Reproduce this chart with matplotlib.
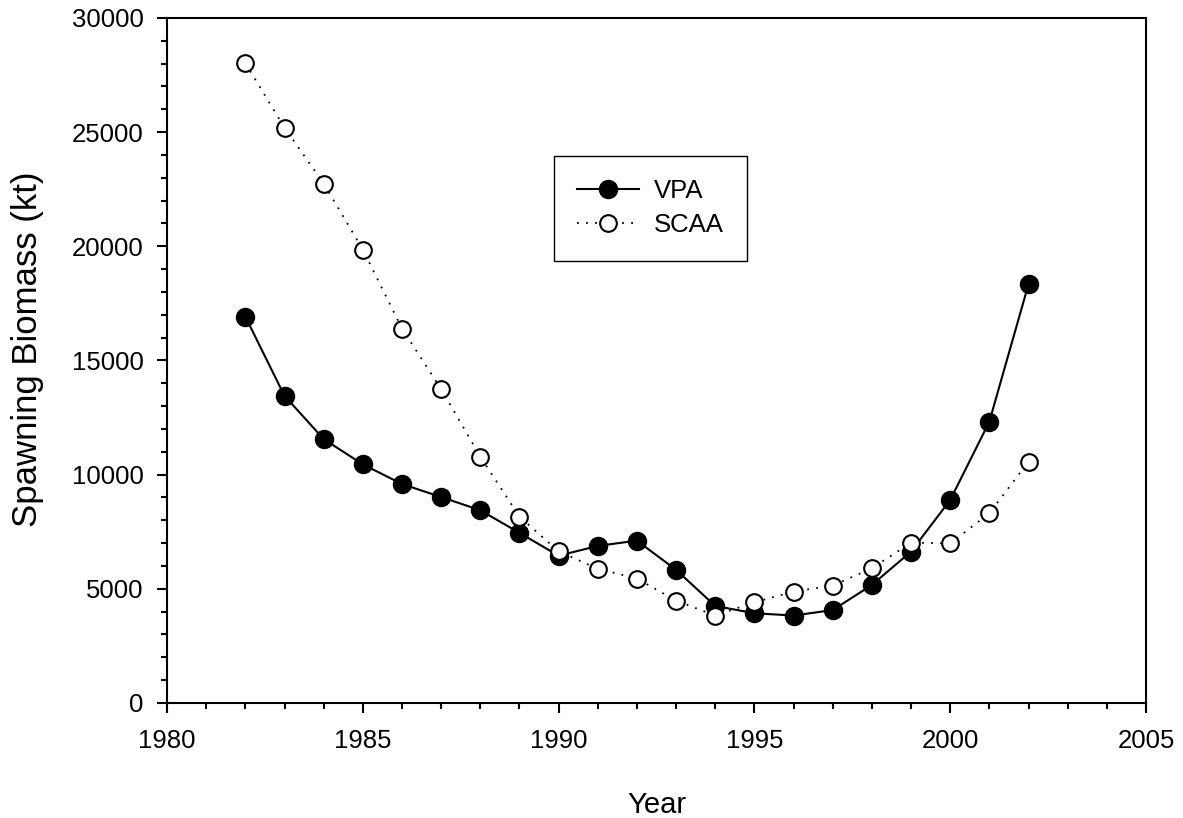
import matplotlib
matplotlib.use("Agg")
import matplotlib.pyplot as plt
from matplotlib.ticker import MultipleLocator

plt.rcParams['font.family'] = ['Liberation Sans', 'DejaVu Sans']

# values
years = [1982, 1983, 1984, 1985, 1986, 1987, 1988, 1989, 1990, 1991, 1992,
         1993, 1994, 1995, 1996, 1997, 1998, 1999, 2000, 2001, 2002]
vpa = [16920, 13450, 11560, 10450, 9590, 9020, 8440, 7450, 6450, 6880, 7110,
       5830, 4250, 3930, 3830, 4070, 5170, 6630, 8890, 12320, 18340]
scaa = [28020, 25200, 22750, 19860, 16400, 13750, 10790, 8160, 6640, 5880, 5450,
        4480, 3830, 4410, 4880, 5140, 5900, 7020, 6990, 8310, 10570]

fig = plt.figure(figsize=(11.83, 8.18), dpi=100)
ax = fig.add_axes([0.1412, 0.1406, 0.8275, 0.8374])

# solid line with filled dots
ax.plot(years, vpa, color='k', lw=1.5, marker='o', ms=13,
        mfc='k', mec='k', label='VPA')
# dotted line with open circles
ax.plot(years, scaa, color='k', lw=1.3, ls=(0, (1, 4)), marker='o', ms=12,
        mfc='white', mec='k', mew=1.5, label='SCAA')

ax.set_xlim(1980, 2005)
ax.set_ylim(0, 30000)
ax.xaxis.set_major_locator(MultipleLocator(5))
ax.xaxis.set_minor_locator(MultipleLocator(1))
ax.yaxis.set_major_locator(MultipleLocator(5000))
ax.yaxis.set_minor_locator(MultipleLocator(1000))

ax.tick_params(which='both', direction='out', width=1.5, labelsize=18.5,
               top=False, right=False)
ax.tick_params(which='major', length=7)
ax.tick_params(which='minor', length=4)
ax.tick_params(axis='x', which='major', pad=12)
ax.tick_params(axis='y', which='major', pad=10)
for s in ax.spines.values():
    s.set_linewidth(1.5)

ax.set_xlabel('Year', fontsize=21, labelpad=27)
ax.set_ylabel('Spawning Biomass (kt)', fontsize=25)
ax.yaxis.set_label_coords(-0.126, 0.517)

leg = ax.legend(loc='upper left', bbox_to_anchor=(0.395, 0.7985),
                borderaxespad=0, fontsize=18.5, fancybox=False,
                edgecolor='k', framealpha=1, numpoints=1,
                handlelength=2.4, handletextpad=0.6, borderpad=0.9,
                labelspacing=0.4)
leg.get_frame().set_linewidth(1.0)

fig.savefig('out.png', dpi=100)
